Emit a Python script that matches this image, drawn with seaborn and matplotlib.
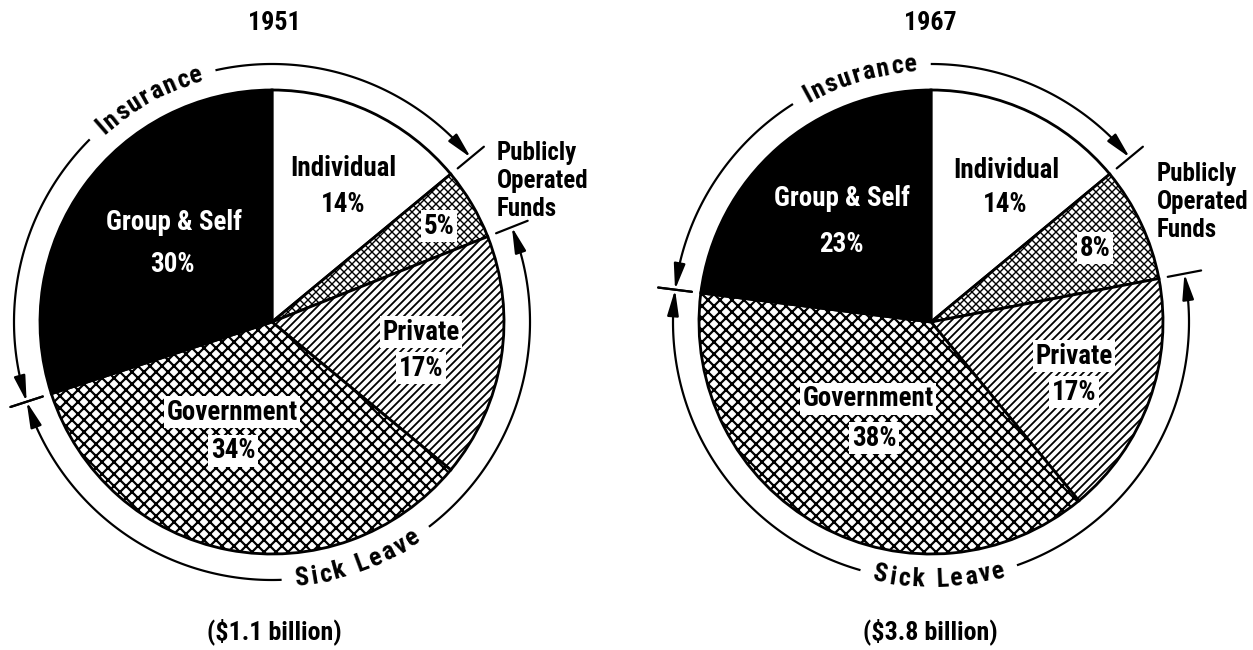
import numpy as np
import matplotlib
matplotlib.use("Agg")
import matplotlib.pyplot as plt
import seaborn as sns
from matplotlib.font_manager import FontProperties

# data
categories = ['Individual', 'Publicly Operated Funds', 'Private', 'Government', 'Group & Self']
share_1951 = [14, 5, 17, 34, 30]
share_1967 = [14, 8, 17, 38, 23]
years = ['1951', '1967']
totals = ['($1.1 billion)', '($3.8 billion)']
pct_labels_1951 = ['14%', '5%', '17%', '34%', '30%']
pct_labels_1967 = ['14%', '8%', '17%', '38%', '23%']

sns.set_theme(style='white')
FAMILY = ['Roboto Condensed', 'Roboto', 'DejaVu Sans']
plt.rcParams['font.family'] = FAMILY
plt.rcParams['text.color'] = 'black'
plt.rcParams['hatch.linewidth'] = 1.0
plt.rcParams['hatch.color'] = 'black'

W, H = 1253, 650
DPI = 144
fig = plt.figure(figsize=(W / DPI, H / DPI), dpi=DPI)
ax = fig.add_axes([0, 0, 1, 1])

fills = ['white', 'white', 'white', 'white', 'black']
hatches = [None, 'xxxxxx', '//////', 'xxxx', None]
hatch_lw = [1.0, 0.7, 0.9, 1.1, 1.0]

R_PIE = 232
R_RING = 258


def Y(ypix):
    return H - ypix


def pol(cx, cy, r, deg):
    t = np.deg2rad(deg)
    return cx + r * np.cos(t), cy + r * np.sin(t)


renderer = fig.canvas.get_renderer()
ring_font = FontProperties(family=FAMILY, weight='bold', size=13)


def curved_text(s, cx, cy, r, mid, upper, track=2.0):
    widths = []
    for ch in s:
        if ch == ' ':
            widths.append(ring_font.get_size_in_points() * DPI / 72 * 0.3)
        else:
            widths.append(renderer.get_text_width_height_descent(ch, ring_font, ismath=False)[0])
    total = sum(widths) + track * (len(s) - 1)
    span = np.rad2deg(total / r)
    pos = 0.0
    for ch, w in zip(s, widths):
        off = np.rad2deg((pos + w / 2) / r)
        if upper:
            th = mid + span / 2 - off
            rot = th - 90
        else:
            th = mid - span / 2 + off
            rot = th + 90
        x, y = pol(cx, cy, r, th)
        ax.text(x, y, ch, fontproperties=ring_font, rotation=rot,
                rotation_mode='anchor', ha='center', va='center')
        pos += w + track
    return span / 2


def arc(cx, cy, r, a, b):
    t = np.linspace(a, b, 120)
    x, y = pol(cx, cy, r, t)
    ax.plot(x, y, color='black', lw=1.1, solid_capstyle='butt')


def arrow(cx, cy, r, tip, start):
    ax.annotate('', xy=pol(cx, cy, r, tip), xytext=pol(cx, cy, r, start),
                arrowprops=dict(arrowstyle='-|>,head_length=0.9,head_width=0.2',
                                color='black', lw=1.1, shrinkA=0, shrinkB=0))


def tick(cx, cy, r, deg):
    x0, y0 = pol(cx, cy, r - 17, deg)
    x1, y1 = pol(cx, cy, r + 17, deg)
    ax.plot([x0, x1], [y0, y1], color='black', lw=1.1)


def bracket(cx, cy, lo, hi, label, upper):
    mid = (lo + hi) / 2
    half = curved_text(label, cx, cy, R_RING, mid, upper)
    gap = half + 3
    arc(cx, cy, R_RING, mid + gap, hi - 4)
    arc(cx, cy, R_RING, mid - gap, lo + 4)
    arrow(cx, cy, R_RING, hi, hi - 5.5)
    arrow(cx, cy, R_RING, lo, lo + 5.5)
    tick(cx, cy, R_RING, hi)
    tick(cx, cy, R_RING, lo)


panels = [
    dict(vals=share_1951, pcts=pct_labels_1951, year=years[0], total=totals[0], cx=272, cy=Y(322),
         title_x=274, lab={
             'Individual': (343, 168, 343, 204),
             'Group & Self': (174, 223, 172, 265),
             'Private': (421, 332, 421, 368),
             'Government': (232, 412, 233, 451),
         }, pub_pct=(439, 226), pub_x=497, pub_y=141),
    dict(vals=share_1967, pcts=pct_labels_1967, year=years[1], total=totals[1], cx=931, cy=Y(322),
         title_x=930, lab={
             'Individual': (1006, 170, 1005, 204),
             'Group & Self': (842, 198, 841, 245),
             'Private': (1074, 356, 1074, 392),
             'Government': (868, 399, 874, 438),
         }, pub_pct=(1095, 248), pub_x=1157, pub_y=162),
]

label_fs = 13.5
for p in panels:
    cx, cy = p['cx'], p['cy']
    wedges, _ = ax.pie(p['vals'], startangle=90, counterclock=False, center=(cx, cy),
                       radius=R_PIE, colors=fills,
                       wedgeprops=dict(edgecolor='black', linewidth=1.4))
    for w, h, hl in zip(wedges, hatches, hatch_lw):
        if h:
            w.set_hatch(h)
            if hasattr(w, 'set_hatch_linewidth'):
                w.set_hatch_linewidth(hl)

    bounds = 90 - 3.6 * np.cumsum([0] + p['vals'])
    bracket(cx, cy, bounds[1], bounds[4] + 360, 'Insurance', True)
    bracket(cx, cy, bounds[4], bounds[2], 'Sick Leave', False)

    box = dict(facecolor='white', edgecolor='none', pad=1.2)
    for i, name in enumerate(categories):
        if name == 'Publicly Operated Funds':
            x, y = p['pub_pct']
            ax.text(x, Y(y), p['pcts'][i], ha='center', va='center', fontsize=label_fs,
                    weight='bold', bbox=box)
            ax.text(p['pub_x'], Y(p['pub_y']), 'Publicly\nOperated\nFunds', ha='left', va='top',
                    fontsize=12.5, weight='bold', linespacing=1.2)
            continue
        lx, ly, px, py = p['lab'][name]
        color = 'white' if name == 'Group & Self' else 'black'
        bb = box if name in ('Private', 'Government') else None
        ax.text(lx, Y(ly), name, ha='center', va='center', fontsize=label_fs,
                weight='bold', color=color, bbox=bb)
        ax.text(px, Y(py), p['pcts'][i], ha='center', va='center', fontsize=label_fs,
                weight='bold', color=color, bbox=bb)

    ax.text(p['title_x'], Y(23), p['year'], ha='center', va='center', fontsize=13, weight='bold')
    ax.text(p['title_x'], Y(632), p['total'], ha='center', va='center', fontsize=13, weight='bold')

ax.set_xlim(0, W)
ax.set_ylim(0, H)
ax.set_aspect('equal')
ax.axis('off')

fig.savefig('out.png', dpi=DPI, facecolor='white')
